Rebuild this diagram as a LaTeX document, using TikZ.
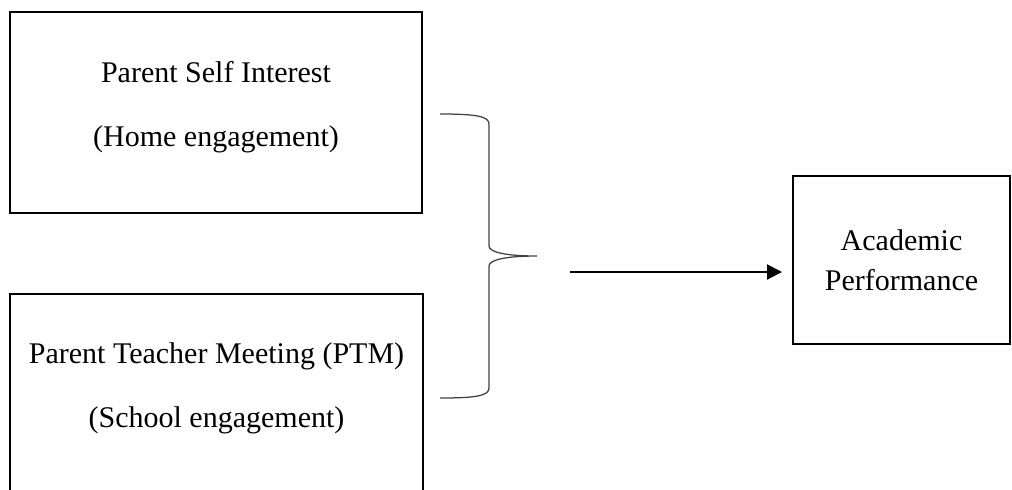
\documentclass[tikz,border=0pt]{standalone}
\usepackage{fontspec}
\setmainfont{Liberation Serif}
\usepackage{tikz}
\usetikzlibrary{arrows.meta}

\begin{document}
\begin{tikzpicture}[x=0.4pt, y=-0.4pt,
		box/.style={draw=black, line width=0.8pt, align=center, inner sep=0pt,
			text depth=7pt, font=\fontsize{12}{25.6}\selectfont},
		pbox/.style={draw=black, line width=0.8pt, align=center, inner sep=0pt,
			font=\fontsize{12}{16}\selectfont},
		brace/.style={draw=black!75, line width=0.5pt},
		lw/.style={line width=0.8pt}]
	
	%% ── frame ──
	\useasboundingbox (0,0) rectangle (1012,489);
	\clip (0,0) rectangle (1012,489);
	
	%% ── left: engagement boxes ──
	\node[box, minimum width=164.8pt, minimum height=80.4pt] (home) at (216,112.5)
	{Parent Self Interest\\(Home engagement)};
	
	\node[box, minimum width=165.2pt, minimum height=80pt] (school) at (216.5,394)
	{Parent Teacher Meeting (PTM)\\(School engagement)};
	
	%% ── right: outcome ──
	\node[pbox, minimum width=86.8pt, minimum height=67.2pt] (perf) at (901.5,260)
	{Academic\\Performance};
	
	%% ── brace ──
	\draw[brace] (440,114) .. controls (475,114) and (489,116) .. (489,124)
	-- (489,246) .. controls (489,252) and (505,256) .. (537,256)
	.. controls (505,256) and (489,260) .. (489,266)
	-- (489,388) .. controls (489,396) and (475,398) .. (440,398);
	
	%% ── connector ──
	\coordinate (src) at (570,272);
	\draw[lw, -{Triangle[length=6pt, width=6pt]}, shorten >=4pt] (src) -- (src -| perf.west);
	
\end{tikzpicture}
\end{document}
